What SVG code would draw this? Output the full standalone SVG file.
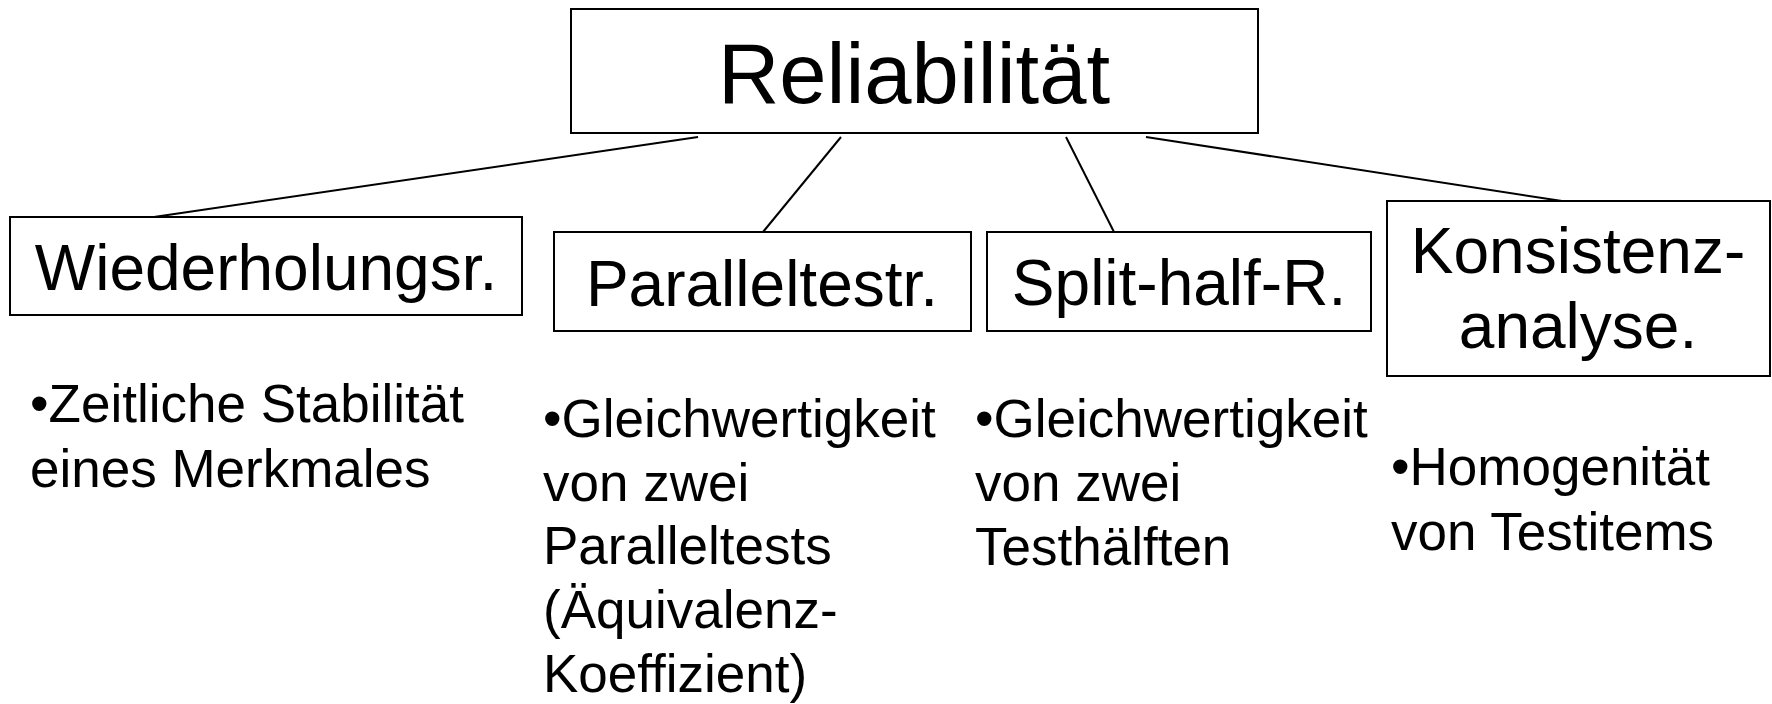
<svg xmlns="http://www.w3.org/2000/svg" width="1772" height="704" viewBox="0 0 1772 704">
<style>
.box{fill:#fff;stroke:#000;stroke-width:2}
.con{stroke:#000;stroke-width:2;fill:none}
.t{font-family:"Liberation Sans",Arial,sans-serif;fill:#000}
.title{font-size:85px;text-anchor:middle}
.h{font-size:64px;text-anchor:middle}
.b{font-size:53px}
</style>
<rect width="1772" height="704" fill="#fff"/>
<g id="connectors">
<line class="con" x1="698" y1="137" x2="154" y2="217"/>
<line class="con" x1="841" y1="137" x2="763" y2="232"/>
<line class="con" x1="1066" y1="137" x2="1114" y2="232"/>
<line class="con" x1="1146" y1="137" x2="1562" y2="201"/>
</g>
<g id="reliabilitaet">
<rect class="box" x="571" y="9" width="687" height="124"/>
<text class="t title" x="914" y="103">Reliabilität</text>
</g>
<g id="wiederholung">
<rect class="box" x="10" y="217" width="512" height="98"/>
<text class="t h" x="266" y="290">Wiederholungsr.</text>
<text class="t b" x="30" y="422">•Zeitliche Stabilität</text>
<text class="t b" x="30" y="487">eines Merkmales</text>
</g>
<g id="paralleltest">
<rect class="box" x="554" y="232" width="417" height="99"/>
<text class="t h" x="762" y="306">Paralleltestr.</text>
<text class="t b" x="543" y="437">•Gleichwertigkeit</text>
<text class="t b" x="543" y="501">von zwei</text>
<text class="t b" x="543" y="564">Paralleltests</text>
<text class="t b" x="543" y="628">(Äquivalenz-</text>
<text class="t b" x="543" y="692">Koeffizient)</text>
</g>
<g id="splithalf">
<rect class="box" x="987" y="232" width="384" height="99"/>
<text class="t h" x="1179" y="305">Split-half-R.</text>
<text class="t b" x="975" y="437">•Gleichwertigkeit</text>
<text class="t b" x="975" y="501">von zwei</text>
<text class="t b" x="975" y="565">Testhälften</text>
</g>
<g id="konsistenz">
<rect class="box" x="1387" y="201" width="383" height="175"/>
<text class="t h" x="1578" y="273">Konsistenz-</text>
<text class="t h" x="1578" y="348">analyse.</text>
<text class="t b" x="1391" y="485">•Homogenität</text>
<text class="t b" x="1391" y="550">von Testitems</text>
</g>
</svg>
